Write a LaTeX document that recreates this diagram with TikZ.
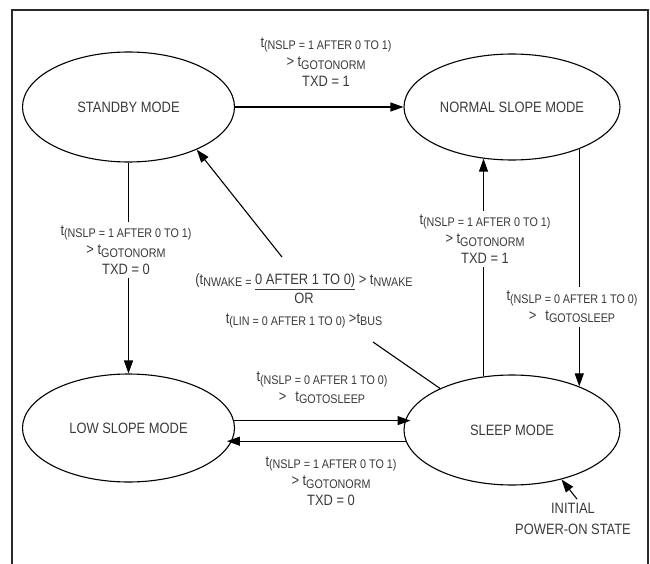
\documentclass[tikz,border=0pt]{standalone}
\usepackage{fontspec}
\setmainfont{Liberation Sans}[FakeStretch=0.86]
\usetikzlibrary{arrows.meta,shapes.geometric}
\definecolor{txt}{HTML}{3A3A3A}
\definecolor{framec}{HTML}{2A2A2A}
\newcommand{\tsub}[1]{t\raisebox{-2.5pt}{\fontsize{12.5}{12.5}\selectfont #1}}
\newcommand{\smtx}[1]{\raisebox{-2.5pt}{\fontsize{12.5}{12.5}\selectfont #1}}
\begin{document}
\begin{tikzpicture}[x=1pt,y=-1pt,
  modeell/.style={draw, ellipse, line width=1.1pt, inner sep=0pt, text=txt,
    font=\fontsize{15}{18}\selectfont},
  lab/.style={align=center, text=txt, inner sep=4pt, fill=white,
    font=\fontsize{15}{19.5}\selectfont},
  conn/.style={line width=1.1pt, -{Triangle[length=13pt,width=9pt]}},
  plainline/.style={line width=1.1pt},
  framel/.style={line width=2.2pt, draw=framec}]
\useasboundingbox (0,0) rectangle (650,564);
\draw[framel] (12,570) -- (12,10) -- (648,10) -- (648,570);

\node[modeell, minimum width=212pt, minimum height=110pt] (standby) at (128.5,107) {STANDBY MODE};
\node[modeell, minimum width=216pt, minimum height=106pt] (normal) at (512,107) {NORMAL SLOPE MODE};
\node[modeell, minimum width=212pt, minimum height=108pt] (low) at (128.5,428) {LOW SLOPE MODE};
\node[modeell, minimum width=216pt, minimum height=110pt] (sleep) at (512,430) {SLEEP MODE};

% connectors
\draw[conn] (standby.east) -- (normal.west);
\draw[conn] (standby.south) -- (low.north);
\draw[conn] (low.4) -- (low.4 -| sleep.169);
\draw[conn] (sleep.186) -- (sleep.186 -| low.-12);
\draw[conn] (sleep.118.7) -- (sleep.118.7 |- normal.-119.6);
\draw[conn] (normal.-32.5) -- (normal.-32.5 |- sleep.33.4);
\coordinate (dA) at (282,257);
\coordinate (dB) at (373,342);
\draw[conn] (dA) -- (standby.-32);
\draw[plainline] (sleep.150) -- (dB);

% labels
\node[lab] (l1) at (326,62) {\tsub{(NSLP = 1 AFTER 0 TO 1)}\\> \tsub{GOTONORM}\\TXD = 1};
\node[lab] (l2) at (126,250) {\tsub{(NSLP = 1 AFTER 0 TO 1)}\\> \tsub{GOTONORM}\\TXD = 0};
\node[lab] (l3) at (485,239) {\tsub{(NSLP = 1 AFTER 0 TO 1)}\\> \tsub{GOTONORM}\\TXD = 1};
\node[lab] (l4) at (572,307) {\tsub{(NSLP = 0 AFTER 1 TO 0)}\\>\hspace{9pt}\tsub{GOTOSLEEP}};
\node[lab, fill=none] (l5) at (322,388) {\tsub{(NSLP = 0 AFTER 1 TO 0)}\\>\hspace{9pt}\tsub{GOTOSLEEP}};
\node[lab, fill=none] (l6) at (331,481) {\tsub{(NSLP = 1 AFTER 0 TO 1)}\\> \tsub{GOTONORM}\\TXD = 0};
\node[lab, fill=none, inner sep=0pt] (l7) at (304,301)
  {(\tsub{NWAKE =} \underline{0 AFTER 1 TO 0)} > \tsub{NWAKE}\\
   OR\\
   \tsub{(LIN = 0 AFTER 1 TO 0)} >\tsub{BUS}};
\node[lab, fill=none, font=\fontsize{15}{21}\selectfont] (init) at (573,519) {INITIAL\\POWER-ON STATE};
\draw[conn] ([xshift=4pt]init.north) -- (sleep.-45);
\end{tikzpicture}
\end{document}
